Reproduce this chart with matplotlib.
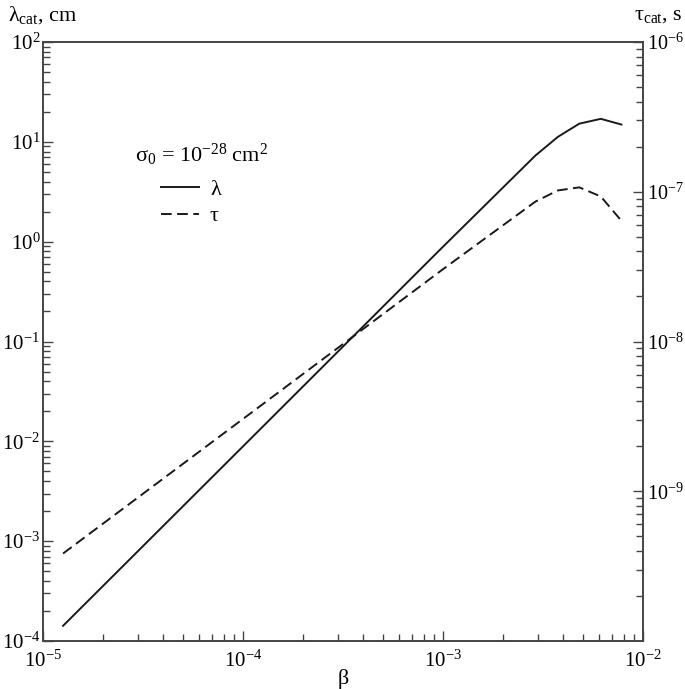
import matplotlib
matplotlib.use("Agg")
import matplotlib.pyplot as plt
from matplotlib.ticker import LogLocator, NullFormatter

plt.rcParams['font.family'] = ['Liberation Serif', 'DejaVu Serif']
plt.rcParams['mathtext.fontset'] = 'custom'
plt.rcParams['mathtext.rm'] = 'Liberation Serif'
plt.rcParams['mathtext.it'] = 'Liberation Serif:italic'
plt.rcParams['font.size'] = 16

# данные
beta = [1.26e-5, 1.0e-4, 1.0e-3, 2.9e-3, 3.75e-3, 4.8e-3, 6.15e-3, 7.8e-3]
lam = [1.42e-4, 8.9e-3, 0.89, 7.3, 11.2, 15.2, 17.0, 14.9]       # cm
tau = [3.84e-10, 3.04e-9, 3.04e-8, 8.6e-8, 1.02e-7, 1.07e-7, 9.3e-8, 6.4e-8]  # s

left_ticks = [1e-4, 1e-3, 1e-2, 1e-1, 1e0, 1e1, 1e2]
right_ticks = [1e-9, 1e-8, 1e-7, 1e-6]
x_ticks = [1e-5, 1e-4, 1e-3, 1e-2]

col = '#1a1a1a'
spine_col = '#444444'

fig = plt.figure(figsize=(6.85, 6.89), dpi=100)
ax = fig.add_axes([43 / 685, 1 - 641 / 689, 600 / 685, 599 / 689])
ax2 = ax.twinx()

ax.plot(beta, lam, color=col, lw=1.4, label='λ')
ax2.plot(beta, tau, color=col, lw=1.4, linestyle=(0, (5.5, 2.8)), label='τ')

ax.set_xscale('log')
ax.set_yscale('log')
ax2.set_yscale('log')
ax.set_xlim(1e-5, 1e-2)
ax.set_ylim(1e-4, 1e2)
ax2.set_ylim(1e-10, 1e-6)

ax.set_xticks(x_ticks)
ax.set_yticks(left_ticks)
ax2.set_yticks(right_ticks)
for a in (ax.xaxis, ax.yaxis, ax2.yaxis):
    a.set_minor_locator(LogLocator(base=10, subs=range(2, 10), numticks=20))
    a.set_minor_formatter(NullFormatter())

ax.tick_params(which='both', direction='in', top=False, right=False, colors=spine_col,
               labelcolor='black', width=1.0)
ax.tick_params(which='major', length=7, labelsize=15)
ax.tick_params(which='minor', length=5)
ax.tick_params(axis='y', pad=2)
ax.tick_params(axis='x', pad=7)
ax2.tick_params(which='both', direction='in', colors=spine_col, labelcolor='black', width=1.0)
ax2.tick_params(which='major', length=7, labelsize=14.5, pad=3)
ax2.tick_params(which='minor', length=5)

for a in (ax, ax2):
    for s in a.spines.values():
        s.set_color(spine_col)
        s.set_linewidth(1.2)

# подписи осей
fig.text(8 / 685, 1 - 21 / 689, r'λ$_{\mathrm{cat}}$, cm', ha='left', va='baseline', fontsize=16)
fig.text(683 / 685, 1 - 20 / 689, r'τ$_{\mathrm{cat}}$, s', ha='right', va='baseline', fontsize=16)
fig.text(343 / 685, 1 - 684 / 689, 'β', ha='center', va='baseline', fontsize=16)

# легенда
fig.text(135 / 685, 1 - 162 / 689, r'σ$_0$ = 10$^{-28}$ cm$^2$', ha='left', va='baseline', fontsize=16)
h1, l1 = ax.get_legend_handles_labels()
h2, l2 = ax2.get_legend_handles_labels()
ax2.legend(h1 + h2, l1 + l2, loc='center left', bbox_to_anchor=(161 / 685, 1 - 203 / 689),
           bbox_transform=fig.transFigure, frameon=False, borderpad=0, borderaxespad=0,
           handlelength=1.7, handletextpad=0.5, labelspacing=0.25, fontsize=16)

plt.savefig('out.png', dpi=100)
